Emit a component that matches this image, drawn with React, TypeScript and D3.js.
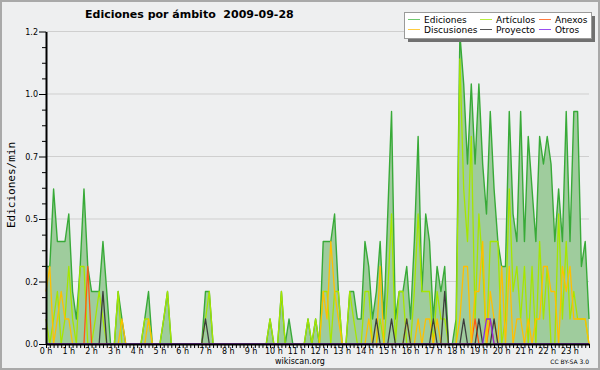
import React, { useEffect, useRef } from "react";
import { select, scaleLinear, line, area, range, axisBottom, axisLeft } from "d3";

const WIDTH = 600;
const HEIGHT = 370;

// edits per minute, one point per 10 minutes (00:00 .. 23:50)
const ediciones = [
  .31, .31, .62, .41, .41, .41, .52, .21, .1, .31, .62, .31, .21, .21, .21, .41, .21, 0, 0, .21, .1, 0, 0, 0,
  0, 0, .1, .21, 0, 0, 0, .1, .21, 0, 0, 0, 0, 0, 0, 0, 0, 0, .21, .21, 0, 0, 0, 0,
  0, 0, 0, 0, 0, 0, 0, 0, 0, 0, 0, .1, 0, 0, .21, 0, .1, 0, 0, 0, 0, .1, 0, .1,
  0, .41, .41, .41, .52, .21, 0, 0, .21, .21, .1, .1, .41, .31, .1, .21, .41, .1, .52, .93, .1, .21, .21, .31,
  .1, .41, .83, .21, .52, .41, .1, .31, .21, .31, 0, 0, .1, 1.24, 1.04, .72, 1.04, .72, 1.04, .72, .52, .93, .62, .41,
  .31, .31, .93, .52, .41, .93, .41, .83, .62, .41, .83, .72, .83, .72, .41, .62, .41, .93, .41, .93, .93, .31, .41, .1,
];
const articulos = [
  .1, 0, .1, .21, 0, .1, .31, .1, 0, .31, .31, 0, 0, .1, .21, .1, 0, 0, 0, .21, 0, 0, 0, 0,
  0, 0, .1, .1, 0, 0, 0, .1, .21, 0, 0, 0, 0, 0, 0, 0, 0, 0, .1, .21, 0, 0, 0, 0,
  0, 0, 0, 0, 0, 0, 0, 0, 0, 0, 0, .1, 0, 0, .21, 0, 0, 0, 0, 0, 0, .1, 0, .1,
  0, .21, .21, 0, .21, .21, 0, 0, .21, .1, 0, 0, .21, .21, 0, 0, .1, 0, .21, .52, 0, .21, .21, 0,
  0, .21, .52, .21, .21, .21, 0, .21, .1, .1, 0, 0, 0, 1.14, .62, .41, .83, .1, .52, .31, 0, .41, .41, .41,
  0, .1, .62, .21, .31, .1, .31, 0, .31, 0, .41, .1, .31, 0, 0, .52, .1, .41, .1, .21, .1, .1, .1, 0,
];
const anexos = [
  0, 0, 0, 0, 0, 0, 0, 0, 0, 0, 0, .31, 0, 0, 0, 0, 0, 0, 0, 0, 0, 0, 0, 0,
  0, 0, 0, 0, 0, 0, 0, 0, 0, 0, 0, 0, 0, 0, 0, 0, 0, 0, 0, 0, 0, 0, 0, 0,
  0, 0, 0, 0, 0, 0, 0, 0, 0, 0, 0, 0, 0, 0, 0, 0, 0, 0, 0, 0, 0, 0, 0, 0,
  0, 0, 0, 0, 0, 0, 0, 0, 0, 0, 0, 0, 0, 0, 0, 0, 0, 0, 0, 0, 0, 0, 0, 0,
  0, 0, 0, 0, 0, 0, 0, 0, 0, 0, 0, 0, 0, 0, 0, 0, 0, .1, 0, 0, 0, .1, 0, 0,
  0, 0, 0, 0, 0, 0, 0, 0, 0, 0, 0, 0, 0, 0, 0, 0, 0, 0, 0, 0, 0, 0, 0, 0,
];
const discusiones = [
  .21, .31, 0, .1, .21, .1, .1, 0, 0, 0, 0, 0, 0, 0, 0, 0, 0, 0, 0, 0, .1, 0, 0, 0,
  0, 0, 0, .1, 0, 0, 0, 0, 0, 0, 0, 0, 0, 0, 0, 0, 0, 0, 0, 0, 0, 0, 0, 0,
  0, 0, 0, 0, 0, 0, 0, 0, 0, 0, 0, 0, 0, 0, 0, 0, 0, 0, 0, 0, 0, 0, 0, 0,
  0, .21, .1, .41, .21, .1, 0, 0, 0, 0, 0, 0, 0, .1, 0, 0, .31, 0, 0, 0, 0, 0, 0, .1,
  0, 0, .1, 0, .1, .1, 0, .1, 0, 0, 0, 0, 0, .1, .31, .31, 0, .21, .21, .41, 0, .21, .1, 0,
  .31, 0, .31, 0, .1, .1, 0, .1, 0, .1, .1, .31, .31, .21, .21, 0, .31, .21, .31, .1, .1, .1, .1, 0,
];
const proyecto = [
  0, 0, 0, 0, 0, 0, 0, 0, 0, 0, 0, 0, 0, 0, 0, .21, 0, 0, 0, 0, 0, 0, 0, 0,
  0, 0, 0, 0, 0, 0, 0, 0, 0, 0, 0, 0, 0, 0, 0, 0, 0, 0, .1, 0, 0, 0, 0, 0,
  0, 0, 0, 0, 0, 0, 0, 0, 0, 0, 0, 0, 0, 0, 0, 0, 0, 0, 0, 0, 0, 0, 0, 0,
  0, 0, 0, 0, 0, 0, 0, 0, 0, 0, 0, 0, 0, 0, 0, .1, 0, 0, 0, .1, 0, 0, 0, .1,
  0, 0, 0, 0, 0, 0, .1, 0, 0, .21, 0, 0, 0, 0, .1, 0, 0, 0, .1, 0, 0, 0, .1, 0,
  0, 0, 0, 0, 0, 0, 0, 0, 0, 0, 0, 0, 0, 0, 0, 0, 0, 0, 0, 0, 0, 0, 0, 0,
];
const otros = [
  0, 0, 0, 0, 0, 0, 0, 0, 0, 0, 0, 0, 0, 0, 0, 0, 0, 0, 0, 0, 0, 0, 0, 0,
  0, 0, 0, 0, 0, 0, 0, 0, 0, 0, 0, 0, 0, 0, 0, 0, 0, 0, 0, 0, 0, 0, 0, 0,
  0, 0, 0, 0, 0, 0, 0, 0, 0, 0, 0, 0, 0, 0, 0, 0, 0, 0, 0, 0, 0, 0, 0, 0,
  0, 0, 0, 0, 0, 0, 0, 0, 0, 0, 0, 0, 0, 0, 0, 0, 0, 0, 0, 0, 0, 0, 0, 0,
  0, 0, 0, 0, 0, 0, 0, 0, 0, 0, 0, 0, 0, 0, 0, 0, 0, 0, 0, 0, .1, .1, 0, 0,
  0, 0, 0, 0, 0, 0, 0, 0, 0, 0, 0, 0, 0, 0, 0, 0, 0, 0, 0, 0, 0, 0, 0, 0,
];

const yTicks = [0, 0.25, 0.5, 0.75, 1.0, 1.25];
const yTickLabels = ["0.0", "0.2", "0.5", "0.7", "1.0", "1.2"];
const hourLabels = range(24).map(h => `${h} h`);

const series = [
  { name: "Artículos", values: articulos, color: "#a6e600" },
  { name: "Anexos", values: anexos, color: "#ff5a14" },
  { name: "Discusiones", values: discusiones, color: "#ffbf00" },
  { name: "Proyecto", values: proyecto, color: "#3c3c3c" },
  { name: "Otros", values: otros, color: "#8a2be2" },
];

const legendItems = [
  { name: "Ediciones", color: "#6fc86f" },
  { name: "Artículos", color: "#b8ee40" },
  { name: "Anexos", color: "#ff7a40" },
  { name: "Discusiones", color: "#ffcc40" },
  { name: "Proyecto", color: "#555555" },
  { name: "Otros", color: "#9a4ef0" },
];

function App() {
  const svgRef = useRef(null);

  useEffect(() => {
    const svg = select(svgRef.current);
    svg.selectAll("*").remove();

    const left = 46, right = 589, top = 31.5, bottom = 344;
    const x = scaleLinear().domain([0, ediciones.length - 1]).range([left, right]);
    const y = scaleLinear().domain([0, 1.25]).range([bottom, top]);

    svg.append("rect").attr("width", WIDTH).attr("height", HEIGHT).attr("fill", "#eeeff0");
    svg.append("rect")
      .attr("x", 1).attr("y", 1).attr("width", WIDTH - 2).attr("height", HEIGHT - 2)
      .attr("fill", "none").attr("stroke", "#a9a9a9").attr("stroke-width", 2);

    // grid
    svg.append("g").selectAll("line")
      .data(yTicks.slice(1))
      .join("line")
        .attr("x1", left).attr("x2", right)
        .attr("y1", d => y(d)).attr("y2", d => y(d))
        .attr("stroke", "#cfcfcf").attr("stroke-width", 1);

    // Ediciones area + lines
    svg.append("path")
      .datum(ediciones)
      .attr("fill", "#9fcc9d")
      .attr("d", area<number>().x((d, i) => x(i)).y0(y(0)).y1(d => y(d)));

    const lineGen = line<number>().x((d, i) => x(i)).y(d => y(d));
    svg.append("path")
      .datum(ediciones)
      .attr("fill", "none").attr("stroke", "#38aa38").attr("stroke-width", 1.4)
      .attr("stroke-linejoin", "round")
      .attr("d", lineGen);

    svg.append("g").selectAll("path")
      .data(series)
      .join("path")
        .attr("fill", "none")
        .attr("stroke", s => s.color)
        .attr("stroke-width", 1.3)
        .attr("stroke-linejoin", "round")
        .attr("d", s => lineGen(s.values));

    // axes
    const xAxis = axisBottom(x).tickValues(range(ediciones.length)).tickSize(4).tickSizeOuter(0).tickFormat(() => "");
    const gx = svg.append("g").attr("transform", `translate(0, ${bottom})`).call(xAxis);
    gx.select(".domain").attr("stroke-width", 2);

    const minor = range(0, 1.25001, 0.0625).filter(v => !yTicks.some(t => Math.abs(t - v) < 1e-6));
    const gyMinor = svg.append("g").attr("transform", `translate(${left}, 0)`)
      .call(axisLeft(y).tickValues(minor).tickSize(4).tickSizeOuter(0).tickFormat(() => ""));
    gyMinor.select(".domain").remove();
    const gy = svg.append("g").attr("transform", `translate(${left}, 0)`)
      .call(axisLeft(y).tickValues(yTicks).tickSize(7).tickPadding(1).tickSizeOuter(0)
        .tickFormat((d, i) => yTickLabels[i]));
    gy.select(".domain").attr("stroke-width", 2);
    gy.selectAll("text").attr("font-family", "DejaVu Sans").attr("font-size", 8).attr("fill", "#000");

    svg.append("g").selectAll("text")
      .data(hourLabels)
      .join("text")
        .attr("x", (d, i) => x(i * 6))
        .attr("y", 353.5)
        .attr("text-anchor", "middle")
        .attr("font-size", 8)
        .text(d => d);

    svg.append("text")
      .attr("transform", "translate(15, 185) rotate(-90)")
      .attr("text-anchor", "middle")
      .attr("font-family", "DejaVu Sans Mono")
      .attr("font-size", 11)
      .text("Ediciones/min");

    svg.append("text")
      .attr("x", 85).attr("y", 18.3)
      .attr("font-size", 11).attr("font-weight", "bold")
      .attr("xml:space", "preserve")
      .text("Ediciones por ámbito  2009-09-28");

    svg.append("text")
      .attr("x", 300).attr("y", 363.5).attr("text-anchor", "middle")
      .attr("font-size", 8)
      .text("wikiscan.org");
    svg.append("text")
      .attr("x", 589).attr("y", 364).attr("text-anchor", "end")
      .attr("font-size", 6)
      .text("CC BY-SA 3.0");

    // legend
    const lg = svg.append("g");
    lg.append("rect").attr("x", 408).attr("y", 16).attr("width", 187).attr("height", 26).attr("fill", "#707070");
    lg.append("rect").attr("x", 404.5).attr("y", 12.5).attr("width", 187).attr("height", 26)
      .attr("fill", "#ffffff").attr("stroke", "#9a9a9a").attr("stroke-width", 1);
    const colX = [408, 480, 539];
    const rowY = [19.5, 29.5];
    const items = lg.selectAll("g.item")
      .data(legendItems)
      .join("g")
        .attr("class", "item")
        .attr("transform", (d, i) => `translate(${colX[i % 3]}, ${rowY[Math.floor(i / 3)]})`);
    items.append("line")
      .attr("x1", 0).attr("x2", 12).attr("y1", 0).attr("y2", 0)
      .attr("stroke", d => d.color).attr("stroke-width", 1);
    items.append("text")
      .attr("x", 16).attr("y", 3.3)
      .attr("font-size", 9)
      .text(d => d.name);
  }, []);

  return (
    <svg ref={svgRef} width={WIDTH} height={HEIGHT}
      style={{ position: "absolute", left: 0, top: 0, fontFamily: "DejaVu Sans" }} />
  );
}

export default App;
